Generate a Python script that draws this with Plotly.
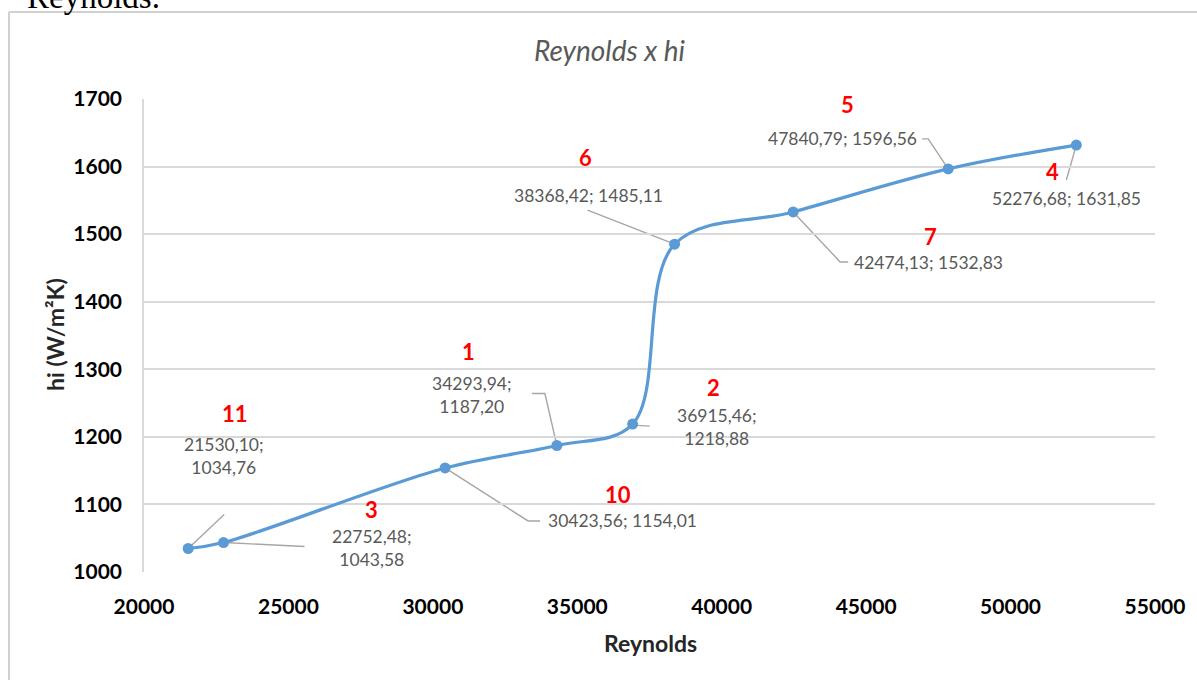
import plotly.graph_objects as go

# Reynolds number vs. internal heat-transfer coefficient hi
reynolds = [21530.10, 22752.48, 30423.56, 34293.94, 36915.46,
            38368.42, 42474.13, 47840.79, 52276.68]
hi = [1034.76, 1043.58, 1154.01, 1187.20, 1218.88,
      1485.11, 1532.83, 1596.56, 1631.85]
run_ids = ["11", "3", "10", "1", "2", "6", "7", "5", "4"]
two_line = [True, True, False, True, True, False, False, False, False]

x_ticks = [20000, 25000, 30000, 35000, 40000, 45000, 50000, 55000]
y_ticks = [1000, 1100, 1200, 1300, 1400, 1500, 1600, 1700]

# label placement: pixel offsets (right, down) from each marker
label_off = [(36, -93), (148, 5), (177, 53), (-85, -51), (84, 3),
             (-86, -49), (135, 51), (-106, -30), (-10, 53)]
id_off = [(47, -135), (148, -33), (173, 27), (-88, -94), (81, -37),
          (-89, -87), (137, 25), (-101, -64), (-24, 26)]
# leader polylines, pixel offsets (right, down) from each marker
leaders = [
    [(0, 0), (36, -34)],
    [(0, 0), (81, 4)],
    [(0, 0), (83, 53), (95, 53)],
    [(0, 0), (-12, -52), (-25, -52)],
    [(0, 1), (17, 2)],
    [(0, 0), (-87, -34)],
    [(0, 0), (47, 50), (55, 50)],
    [(0, 0), (-20, -30), (-26, -30)],
    [(0, 0), (-10, 35)],
]

BLUE = "#5B9BD5"
GRID = "#D9D9D9"
LABEL = "#595959"
FONT = "Lato"

W, H = 1197, 680
ML, MR, MT, MB = 144, 42, 99, 108


def fmt(v):
    return f"{v:.2f}".replace(".", ",")


fig = go.Figure()
fig.add_trace(go.Scatter(
    x=reynolds, y=hi, mode="lines+markers",
    line=dict(color=BLUE, width=3.2, shape="spline", smoothing=1.0),
    marker=dict(color=BLUE, size=11),
    showlegend=False, hoverinfo="skip",
))

shapes = []
annotations = []
for i, (xv, yv) in enumerate(zip(reynolds, hi)):
    pts = leaders[i]
    path = "M " + " L ".join(f"{px},{-py}" for px, py in pts)
    shapes.append(dict(
        type="path", xref="x", yref="y", xsizemode="pixel", ysizemode="pixel",
        xanchor=xv, yanchor=yv, path=path,
        line=dict(color="#A6A6A6", width=1.4), layer="below",
    ))
    sep = ";<br>" if two_line[i] else "; "
    dx, dy = label_off[i]
    annotations.append(dict(
        x=xv, y=yv, xref="x", yref="y", showarrow=False,
        text=fmt(xv) + sep + fmt(yv), xshift=dx, yshift=-dy,
        font=dict(family=FONT, size=17.5, color=LABEL), align="center",
    ))
    ix, iy = id_off[i]
    annotations.append(dict(
        x=xv, y=yv, xref="x", yref="y", showarrow=False,
        text=f"<b>{run_ids[i]}</b>", xshift=ix, yshift=-iy,
        font=dict(family=FONT, size=22, color="#FF0000"),
    ))

plot_w = W - ML - MR
plot_h = H - MT - MB


def px_x(p):
    return (p - ML) / plot_w


def px_y(p):
    return (H - MB - p) / plot_h


# outer chart frame (left and top edges visible)
shapes.append(dict(type="line", xref="paper", yref="paper",
                   x0=px_x(9), x1=px_x(9), y0=px_y(12), y1=px_y(700),
                   line=dict(color="#D0D0D0", width=2)))
shapes.append(dict(type="line", xref="paper", yref="paper",
                   x0=px_x(9), x1=px_x(1220), y0=px_y(12), y1=px_y(12),
                   line=dict(color="#D0D0D0", width=2)))

# chart title
annotations.append(dict(
    x=px_x(610), y=px_y(50), xref="paper", yref="paper", showarrow=False,
    xanchor="center", yanchor="middle",
    text="<i>Reynolds x hi</i>", font=dict(family=FONT, size=28, color=LABEL),
))
# axis titles
annotations.append(dict(
    x=px_x(650), y=px_y(643), xref="paper", yref="paper", showarrow=False,
    xanchor="center", yanchor="middle",
    text="<b>Reynolds</b>", font=dict(family=FONT, size=23, color="#262626"),
))
annotations.append(dict(
    x=px_x(55), y=px_y(335), xref="paper", yref="paper", showarrow=False,
    xanchor="center", yanchor="middle",
    text="<b>hi (W/m²K)</b>", textangle=-90,
    font=dict(family=FONT, size=23, color="#262626"),
))
# trailing line of the surrounding document text
annotations.append(dict(
    x=px_x(25), y=px_y(17), xref="paper", yref="paper", showarrow=False,
    xanchor="left", yanchor="bottom", text="Reynolds.",
    font=dict(family="Liberation Serif", size=33, color="#000000"),
))

tick_font = dict(family=FONT, size=21, color="#000000", weight="bold")

fig.update_layout(
    width=W, height=H,
    margin=dict(l=ML, r=MR, t=MT, b=MB),
    paper_bgcolor="white", plot_bgcolor="white",
    shapes=shapes, annotations=annotations,
    xaxis=dict(
        range=[20000, 55000], tickvals=x_ticks, tickformat="d",
        showgrid=False, zeroline=False, showline=False,
        tickfont=tick_font, ticks="", ticklabelstandoff=20,
    ),
    yaxis=dict(
        range=[1000, 1700], tickvals=y_ticks, tickformat="d",
        showgrid=True, gridcolor=GRID, gridwidth=1.5,
        zeroline=False, showline=True, linecolor=GRID, linewidth=1.5,
        tickfont=tick_font, ticks="", ticklabelstandoff=16,
    ),
)

fig.write_html("out.html")
